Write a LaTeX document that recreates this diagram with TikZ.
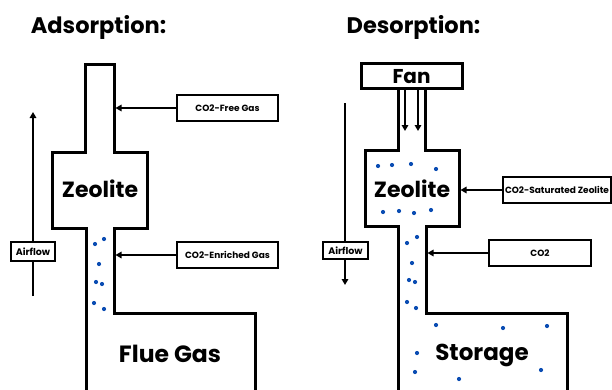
\documentclass[tikz,border=0pt]{standalone}
\usepackage{fontspec}
\setmainfont{Poppins}
\usetikzlibrary{arrows.meta}
\definecolor{dotblue}{HTML}{0B4DB3}
\tikzset{
  wall/.style={line width=3pt, line join=miter},
  labelbox/.style={draw, line width=1.3pt, fill=white, inner sep=1pt,
    font=\bfseries\fontsize{9}{11}\selectfont},
  pointer/.style={-{Triangle[length=6pt,width=6.5pt]}, line width=1.6pt},
  molecule/.style={circle, fill=dotblue, inner sep=0pt, minimum size=4.2pt},
  bigtext/.style={anchor=base, font=\bfseries\fontsize{#1}{#1}\selectfont},
}
\begin{document}
\begin{tikzpicture}[x=1pt, y=-1pt]
  \useasboundingbox (0,0) rectangle (612,389);

  % titles
  \node[bigtext=22.5] (adsTitle) at (98.5,33) {Adsorption:};
  \node[bigtext=22.5] (desTitle) at (413.5,33) {Desorption:};

  % adsorption column
  \draw[wall] (86,392) -- (86,228) -- (52,228) -- (52,152) -- (85,152) -- (85,64)
    -- (114,64) -- (114,152) -- (147,152) -- (147,228) -- (114,228) -- (114,313)
    -- (255,313) -- (255,392);
  \node[bigtext=22] (adsZeo) at (100,197) {Zeolite};
  \node[bigtext=23.5] (flue) at (170,362) {Flue Gas};

  \foreach \px/\py in {95/244, 104/239, 99/264, 96/282, 102/284, 94/303, 104/309}
    \node[molecule] at (\px,\py) {};

  % adsorption labels
  \coordinate (freeTip) at (115.5,108);
  \coordinate (richTip) at (115.5,255);
  \node[labelbox, minimum width=101pt, minimum height=26pt] (freeBox) at (227.5,108) {CO2-Free Gas};
  \node[labelbox, minimum width=101pt, minimum height=26pt] (richBox) at (227.5,255) {CO2-Enriched Gas};
  \draw[pointer] (freeBox.west) -- (freeTip);
  \draw[pointer] (richBox.west) -- (richTip);

  \coordinate (upTop) at (33,112);
  \coordinate (upBot) at (33,296);
  \draw[pointer] (upBot) -- (upTop);
  \node[labelbox, minimum width=44pt, minimum height=19pt, font=\bfseries\fontsize{9.5}{11}\selectfont] (adsFlow) at (33,251.5) {Airflow};

  % desorption column
  \node[draw, line width=3pt, minimum width=101pt, minimum height=25pt, inner sep=0pt] (fanBox) at (411.5,75.5) {};
  \node[bigtext=20] (fan) at (411.5,83) {Fan};
  \draw[wall] (398,88) -- (398,150) -- (365,150) -- (365,226) -- (398,226) -- (398,392);
  \draw[wall] (425,88) -- (425,150) -- (459,150) -- (459,226) -- (426,226) -- (426,313)
    -- (567,313) -- (567,392);
  \node[bigtext=22] (desZeo) at (412,197) {Zeolite};
  \node[bigtext=23] (store) at (482,360) {Storage};

  % fan airflow
  \foreach \fx/\nm in {405/fanA, 418/fanB} {
    \coordinate (\nm Top) at (\fx,89);
    \coordinate (\nm Bot) at (\fx,131);
    \draw[pointer] (\nm Top) -- (\nm Bot);
  }

  \foreach \px/\py in {378/166, 392/165, 411/164, 436/169,
                       383/212, 399/211, 414/213, 431/210,
                       407/243, 417/237, 412/263, 409/280, 415/282, 407/302, 416/308,
                       436/325, 503/328, 547/326, 417/353, 415/372, 459/379, 541/370}
    \node[molecule] at (\px,\py) {};

  % desorption labels
  \coordinate (satTip) at (460.5,190);
  \coordinate (gasTip) at (427.5,253);
  \node[labelbox, minimum width=108pt, minimum height=26pt, inner sep=0.5pt] (satBox) at (557,190) {CO2-Saturated Zeolite};
  \node[labelbox, minimum width=102pt, minimum height=26pt] (gasBox) at (540,253) {CO2};
  \draw[pointer] (satBox.west) -- (satTip);
  \draw[pointer] (gasBox.west) -- (gasTip);

  \coordinate (downTop) at (345,103);
  \coordinate (downBot) at (345,285);
  \draw[pointer] (downTop) -- (downBot);
  \node[labelbox, minimum width=45pt, minimum height=17pt, font=\bfseries\fontsize{9.5}{11}\selectfont] (desFlow) at (345.5,250.5) {Airflow};

\end{tikzpicture}
\end{document}
